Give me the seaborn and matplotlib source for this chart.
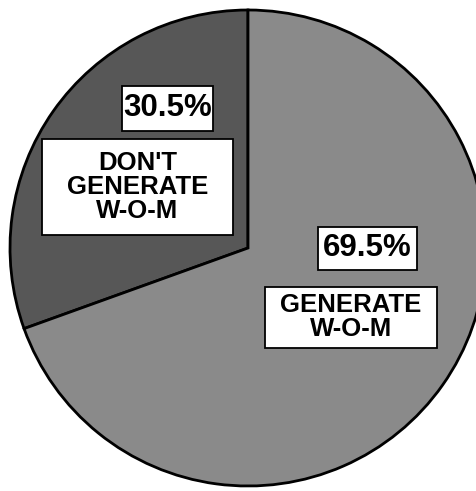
import matplotlib
matplotlib.use("Agg")
import matplotlib.pyplot as plt
import seaborn as sns
from matplotlib.patches import Rectangle

# Survey split: share of respondents who do / don't generate word-of-mouth
categories = ["DON'T\nGENERATE\nW-O-M", "GENERATE\nW-O-M"]
shares = [30.5, 69.5]
pct_labels = [f"{v:.1f}%" for v in shares]
wedge_colors = ["#575757", "#8a8a8a"]

sns.set_theme(style="white")
plt.rcParams["font.family"] = ["Liberation Sans", "DejaVu Sans"]

W, H = 477, 491
fig = plt.figure(figsize=(W / 100, H / 100), dpi=100)
ax = fig.add_axes([0, 0, 1, 1])

# pie centre and radius in figure pixels (origin top-left)
R = 238.0
CX, CY = 248.0, 248.0

ax.pie(
    shares,
    colors=wedge_colors,
    startangle=90,
    counterclock=True,
    radius=1.0,
    wedgeprops=dict(edgecolor="black", linewidth=2.0),
)
ax.set_xlim(-CX / R, (W - CX) / R)
ax.set_ylim(-(H - CY) / R, CY / R)
ax.set_aspect("auto")
ax.axis("off")


def to_data(x, y):
    return (x - CX) / R, (CY - y) / R


def framed_label(text, box, size, ls=1.0):
    left, top, right, bottom = box
    x0, y0 = to_data(left, bottom)
    x1, y1 = to_data(right, top)
    ax.add_patch(Rectangle((x0, y0), x1 - x0, y1 - y0, facecolor="white",
                           edgecolor="black", linewidth=1.3, zorder=3))
    ax.text((x0 + x1) / 2, (y0 + y1) / 2, text, ha="center", va="center",
            fontsize=size, fontweight="bold", linespacing=ls, zorder=4,
            color="black")


# label frames: (left, top, right, bottom) in pixels
framed_label(pct_labels[0], (122, 86, 213, 131), 22.5)
framed_label(categories[0], (42, 139, 233, 235), 18.5)
framed_label(pct_labels[1], (318, 227, 417, 270), 22.5)
framed_label(categories[1], (265, 287, 437, 348), 18.5)

fig.savefig("out.png", dpi=100, facecolor="white")
